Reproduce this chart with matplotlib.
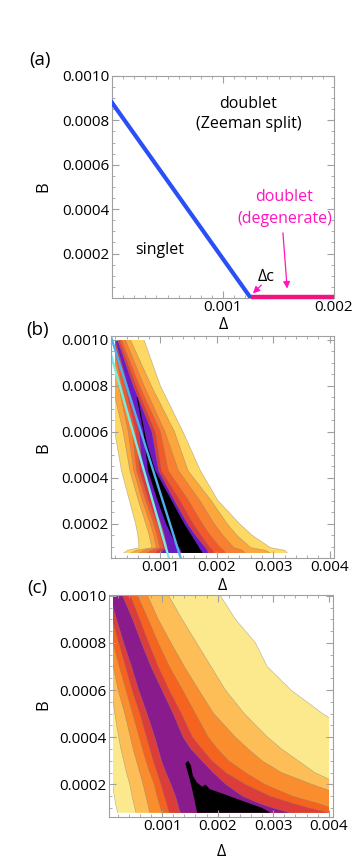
import numpy as np
import matplotlib
matplotlib.use("Agg")
import matplotlib.pyplot as plt
from matplotlib.patches import Rectangle
from matplotlib.ticker import MultipleLocator, FixedLocator, FuncFormatter

plt.rcParams['font.family'] = ['Open Sans', 'DejaVu Sans']

# all values in units of 1e-3 (Delta and B)

# ---- (a) phase diagram
blue_delta = [0.0, 1.25]
blue_B = [0.88, 0.0]
pink_delta = [1.25, 2.0]
pink_B = [0.0, 0.0]

# ---- (b) contour bands: Delta of each band boundary at rows of B
B_b = [0.072, 0.084, 0.095, 0.15, 0.20, 0.30, 0.43, 0.60, 0.80, 1.00]
L0_b = [0.35, 0.42, 0.62, 0.60, 0.56, 0.45, 0.31, 0.19, 0.10, 0.00]
L1_b = [0.48, 0.58, 0.85, 0.80, 0.74, 0.61, 0.46, 0.34, 0.15, 0.00]
L2_b = [0.62, 0.72, 0.93, 0.88, 0.82, 0.68, 0.53, 0.43, 0.26, 0.10]
L3_b = [0.76, 0.84, 0.99, 0.94, 0.88, 0.74, 0.58, 0.50, 0.32, 0.15]
L4_b = [0.90, 0.95, 1.05, 1.00, 0.94, 0.79, 0.63, 0.56, 0.37, 0.18]
L5_b = [1.00, 1.05, 1.12, 1.07, 1.01, 0.85, 0.68, 0.62, 0.42, 0.20]
R5_b = [1.85, 1.83, 1.80, 1.62, 1.48, 1.25, 0.97, 0.85, 0.52, 0.24]
R4_b = [1.95, 1.93, 1.88, 1.72, 1.58, 1.35, 1.02, 0.91, 0.57, 0.27]
R3_b = [2.15, 2.12, 2.06, 1.88, 1.74, 1.50, 1.14, 1.00, 0.63, 0.31]
R2_b = [2.50, 2.45, 2.30, 2.10, 1.95, 1.70, 1.32, 1.08, 0.71, 0.38]
R1_b = [2.95, 2.85, 2.60, 2.35, 2.18, 1.90, 1.49, 1.25, 0.84, 0.47]
R0_b = [3.25, 3.20, 2.95, 2.62, 2.40, 2.02, 1.71, 1.40, 1.00, 0.71]
black_b_delta = [0.58, 0.70, 0.78, 0.95, 1.10, 1.25, 1.35, 1.38, 1.75, 1.70, 1.55, 1.42, 1.20, 0.91, 0.76, 0.60]
black_b_B = [0.75, 0.60, 0.43, 0.30, 0.20, 0.12, 0.09, 0.072, 0.072, 0.09, 0.15, 0.20, 0.30, 0.43, 0.55, 0.75]
cyan_delta = [0.13, 1.15]
cyan_B = [0.93, 0.05]
sky_delta = [0.13, 1.36]
sky_B = [1.01, 0.05]
colors_b = ['#fdd862', '#fca63c', '#f88030', '#f25a2a', '#dc3a3e', '#6c1bc0']

# ---- (c) contour bands
B_c = [0.08, 0.10, 0.12, 0.15, 0.20, 0.25, 0.30, 0.35, 0.40, 0.50, 0.60, 0.70, 0.80, 0.90, 1.00]
L0_c = [0.20, 0.18, 0.16, 0.14, 0.11, 0.08, 0.05, 0.02, 0.00, -0.1, -0.1, -0.1, -0.1, -0.1, -0.1]
L1_c = [0.53, 0.51, 0.49, 0.46, 0.42, 0.36, 0.31, 0.26, 0.22, 0.15, 0.09, 0.04, 0.00, -0.04, -0.08]
L2_c = [0.78, 0.76, 0.74, 0.71, 0.66, 0.60, 0.54, 0.48, 0.43, 0.33, 0.21, 0.12, 0.03, -0.05, -0.12]
L3_c = [1.00, 0.97, 0.95, 0.91, 0.86, 0.78, 0.71, 0.65, 0.59, 0.47, 0.35, 0.23, 0.12, 0.03, -0.05]
L4_c = [1.13, 1.10, 1.08, 1.04, 0.98, 0.91, 0.84, 0.78, 0.72, 0.60, 0.46, 0.34, 0.22, 0.10, 0.00]
L5_c = [1.33, 1.30, 1.28, 1.24, 1.16, 1.07, 0.99, 0.93, 0.87, 0.73, 0.58, 0.45, 0.31, 0.18, 0.06]
R5_c = [3.30, 3.00, 2.75, 2.45, 2.15, 1.92, 1.72, 1.52, 1.38, 1.20, 1.00, 0.80, 0.63, 0.47, 0.29]
R4_c = [4.00, 3.65, 3.35, 2.95, 2.50, 2.15, 1.90, 1.72, 1.55, 1.35, 1.13, 0.93, 0.76, 0.60, 0.43]
R3_c = [4.15, 4.05, 3.80, 3.35, 2.85, 2.50, 2.20, 2.00, 1.83, 1.60, 1.37, 1.13, 0.93, 0.75, 0.56]
R2_c = [5.30, 5.00, 4.70, 4.30, 3.70, 3.15, 2.80, 2.55, 2.32, 1.93, 1.66, 1.40, 1.16, 0.93, 0.74]
R1_c = [5.80, 5.50, 5.20, 4.70, 4.20, 3.75, 3.45, 3.15, 2.90, 2.48, 2.14, 1.88, 1.62, 1.36, 1.12]
R0_c = [7.00, 7.00, 7.00, 6.50, 6.00, 5.60, 5.20, 4.90, 4.60, 3.89, 3.32, 2.89, 2.68, 2.32, 2.05]
black_c_delta = [1.42, 1.47, 1.52, 1.55, 1.62, 1.72, 1.78, 1.86, 2.10, 2.45, 2.80, 2.95, 1.63, 1.57, 1.50, 1.44]
black_c_B = [0.29, 0.30, 0.28, 0.24, 0.21, 0.19, 0.20, 0.18, 0.16, 0.13, 0.10, 0.08, 0.08, 0.15, 0.22, 0.27]
colors_c = ['#fce98d', '#fdbe58', '#fa8e2e', '#f5631f', '#dc3d3b', '#8a1b8c']

W, H = 353, 866
fig = plt.figure(figsize=(W / 100, H / 100), dpi=100)


def make_axes(l, t, r, b):
    return fig.add_axes([l / W, 1 - b / H, (r - l) / W, (b - t) / H])


def style(ax, xlim, ylim, xmajor, xminor):
    ax.set_xlim(xlim)
    ax.set_ylim(ylim)
    ax.xaxis.set_major_locator(FixedLocator(xmajor))
    ax.xaxis.set_minor_locator(MultipleLocator(xminor))
    ax.yaxis.set_major_locator(FixedLocator([0.2, 0.4, 0.6, 0.8, 1.0]))
    ax.yaxis.set_minor_locator(MultipleLocator(0.05))
    ax.xaxis.set_major_formatter(FuncFormatter(lambda v, p: f"{v / 1000:.3f}"))
    ax.yaxis.set_major_formatter(FuncFormatter(lambda v, p: f"{v / 1000:.4f}"))
    for s in ax.spines.values():
        s.set_color('#a0a0a0')
        s.set_linewidth(0.8)
    ax.tick_params(which='both', direction='in', top=True, right=True,
                   color='#a0a0a0', labelsize=11)
    ax.tick_params(which='major', length=5)
    ax.tick_params(which='minor', length=2.5)
    ax.tick_params(axis='y', pad=2)
    ax.tick_params(axis='x', pad=1.5)


def bands(ax, B, lefts, rights, colors, rect):
    clip = Rectangle((rect[0], rect[1]), rect[2] - rect[0], rect[3] - rect[1],
                     transform=ax.transData)
    for lo, hi, col in zip(lefts, rights, colors):
        pc = ax.fill_betweenx(B, lo, hi, facecolor=col, edgecolor='none')
        pc.set_clip_path(clip)
        for edge in (lo, hi):
            ln, = ax.plot(edge, B, color='#808080', lw=0.4, alpha=0.6)
            ln.set_clip_path(clip)
    return clip


# ---------------- (a)
ax = make_axes(112, 76, 334, 298)
style(ax, (0, 2.0), (0, 1.0), [1.0, 2.0], 0.1)
ax.plot(blue_delta, blue_B, color='#2a50f5', lw=3, zorder=3)
ax.plot(pink_delta, np.array(pink_B) + 0.006, color='#f0147f', lw=3.2,
        clip_on=False, solid_capstyle='butt', zorder=3)
ax.text(1.23, 0.876, 'doublet', ha='center', va='center', fontsize=11.5)
ax.text(1.23, 0.786, '(Zeeman split)', ha='center', va='center', fontsize=11.5)
ax.text(0.43, 0.216, 'singlet', ha='center', va='center', fontsize=11.5)
ax.text(1.55, 0.456, 'doublet', ha='center', va='center', fontsize=11.5, color='#ff14c0')
ax.text(1.56, 0.358, '(degenerate)', ha='center', va='center', fontsize=11.5, color='#ff14c0')
ax.text(1.385, 0.096, '\u0394c', ha='center', va='center', fontsize=11.5)
arrow = dict(arrowstyle='-|>', color='#ff14c0', lw=0.9, mutation_scale=10)
ax.annotate('', xy=(1.252, 0.012), xytext=(1.363, 0.067), arrowprops=arrow)
ax.annotate('', xy=(1.58, 0.03), xytext=(1.538, 0.306), arrowprops=arrow)

# ---------------- (b)
ax = make_axes(111, 336, 334, 558)
style(ax, (0.125, 4.075), (0.05, 1.017), [1, 2, 3, 4], 0.2)
clip = bands(ax, B_b, [L0_b, L1_b, L2_b, L3_b, L4_b, L5_b],
             [R0_b, R1_b, R2_b, R3_b, R4_b, R5_b], colors_b, (0.2, 0.072, 4.0, 1.0))
pb = ax.fill(black_b_delta, black_b_B, color='black', lw=0)[0]
pb.set_clip_path(clip)
ax.plot(cyan_delta, cyan_B, color='#78ede2', lw=1.7)
ax.plot(sky_delta, sky_B, color='#4fb0ee', lw=1.7)

# ---------------- (c)
ax = make_axes(109, 595, 333, 817)
style(ax, (0.045, 4.075), (0.062, 1.003), [1, 2, 3, 4], 0.2)
clip = bands(ax, B_c, [L0_c, L1_c, L2_c, L3_c, L4_c, L5_c],
             [R0_c, R1_c, R2_c, R3_c, R4_c, R5_c], colors_c, (0.12, 0.08, 4.0, 1.0))
pc = ax.fill(black_c_delta, black_c_B, color='black', lw=0)[0]
pc.set_clip_path(clip)

# labels
for x, y, s in [(40, 60, '(a)'), (38, 330, '(b)'), (37, 588, '(c)')]:
    fig.text(x / W, 1 - y / H, s, ha='center', va='center', fontsize=13.5)
for y in [187, 448, 705]:
    fig.text(43 / W, 1 - y / H, 'B', rotation=90, ha='center', va='center', fontsize=12)
for x, y in [(223, 325), (222, 586), (221, 852)]:
    fig.text(x / W, 1 - y / H, '\u0394', ha='center', va='center', fontsize=11.5)

fig.savefig('out.png', dpi=100)
